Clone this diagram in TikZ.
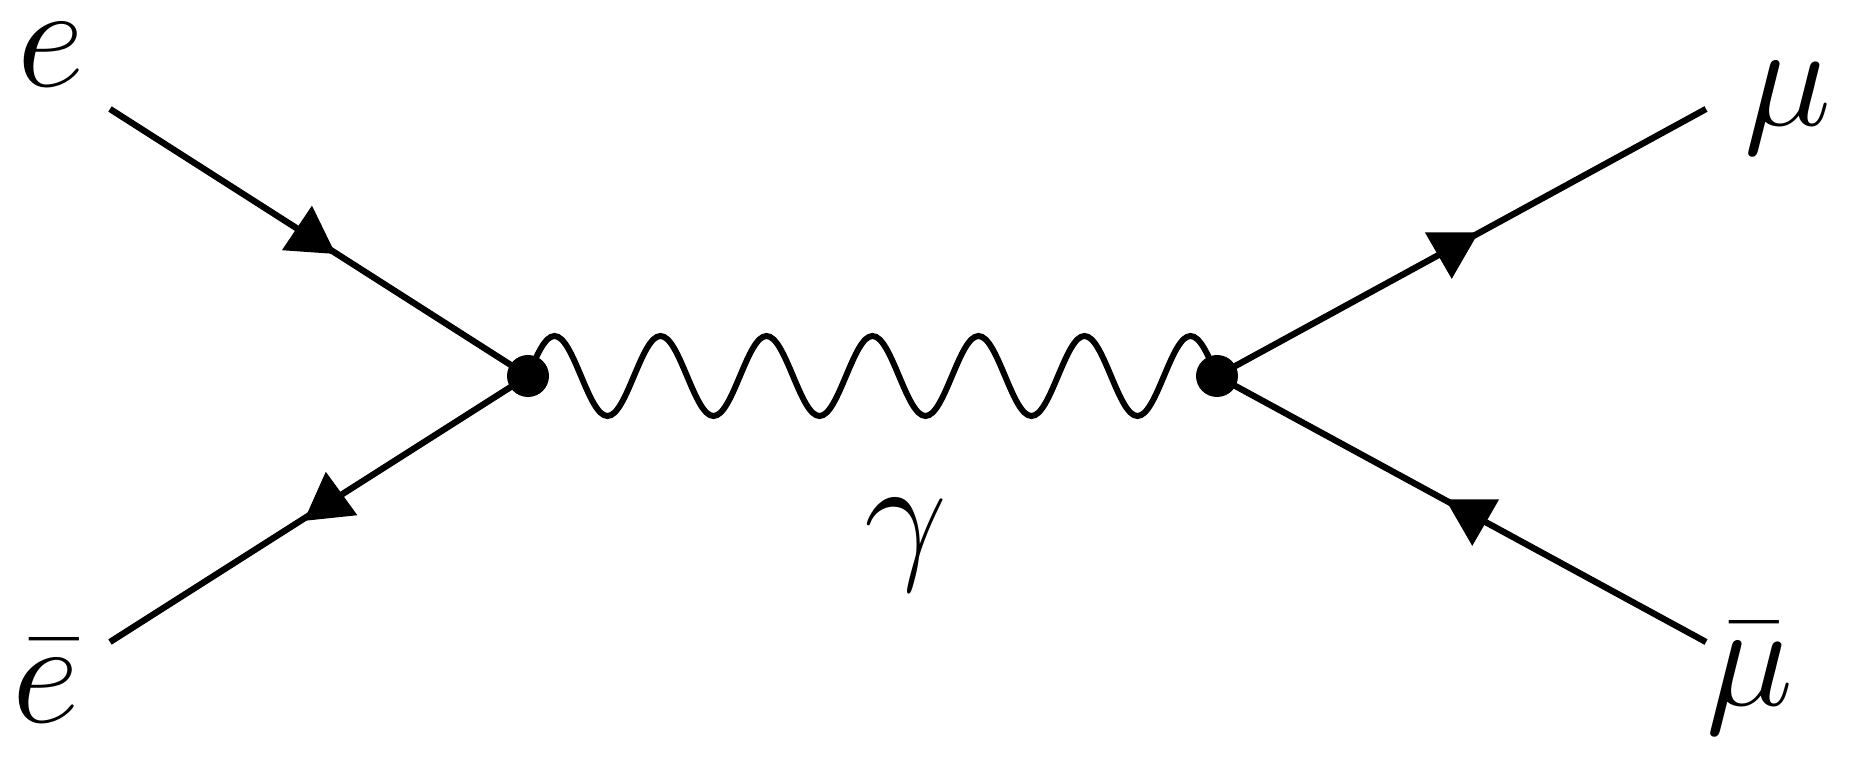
\documentclass[tikz,border=0pt]{standalone}
\usepackage{fix-cm}
\usepackage{amsmath,amssymb}
\usetikzlibrary{shapes.geometric}

\begin{document}
\begin{tikzpicture}[scale=1,
  fermion/.style={line width=1.8pt},
  photon/.style={line width=1.7pt},
  vertex/.style={circle,fill,inner sep=0pt,minimum size=0.42cm},
  tri/.style={regular polygon,regular polygon sides=3,fill,inner sep=0pt,minimum size=0.62cm},
  particle/.style={font=\fontsize{42}{50}\selectfont,inner sep=0pt,anchor=base}]
\useasboundingbox (0,0) rectangle (18.5,7.59);
\node [vertex] (v1) at (5.28,3.83) {};
\node [vertex] (v2) at (12.17,3.83) {};
\coordinate (ein) at (1.10,6.50);
\coordinate (ebin) at (1.10,1.17);
\coordinate (muout) at (17.06,6.50);
\coordinate (mubout) at (17.06,1.17);
\draw [fermion] (ein) -- node[tri,pos=0.478,rotate=-4] {} (v1.center);
\draw [fermion] (ebin) -- node[tri,pos=0.524,rotate=6] {} (v1.center);
\draw [fermion] (muout) -- node[tri,pos=0.52,rotate=180] {} (v2.center);
\draw [fermion] (mubout) -- node[tri,pos=0.478,rotate=180] {} (v2.center);
\draw [photon] (v1.center) \foreach \k in {1,...,6} {sin ++(0.265,0.4) cos ++(0.265,-0.4) sin ++(0.265,-0.4) cos ++(0.265,0.4)} sin ++(0.265,0.4) cos (v2.center);
\node [particle] (e) at (0.51,6.72) {$e$};
\node [particle] (eb) at (0.46,0.36) {$\bar{e}$};
\node [particle] (mu) at (17.88,6.33) {$\mu$};
\node [particle] (mub) at (17.50,0.53) {$\bar{\mu}$};
\node [particle] (ga) at (9.06,1.96) {$\gamma$};
\end{tikzpicture}
\end{document}
